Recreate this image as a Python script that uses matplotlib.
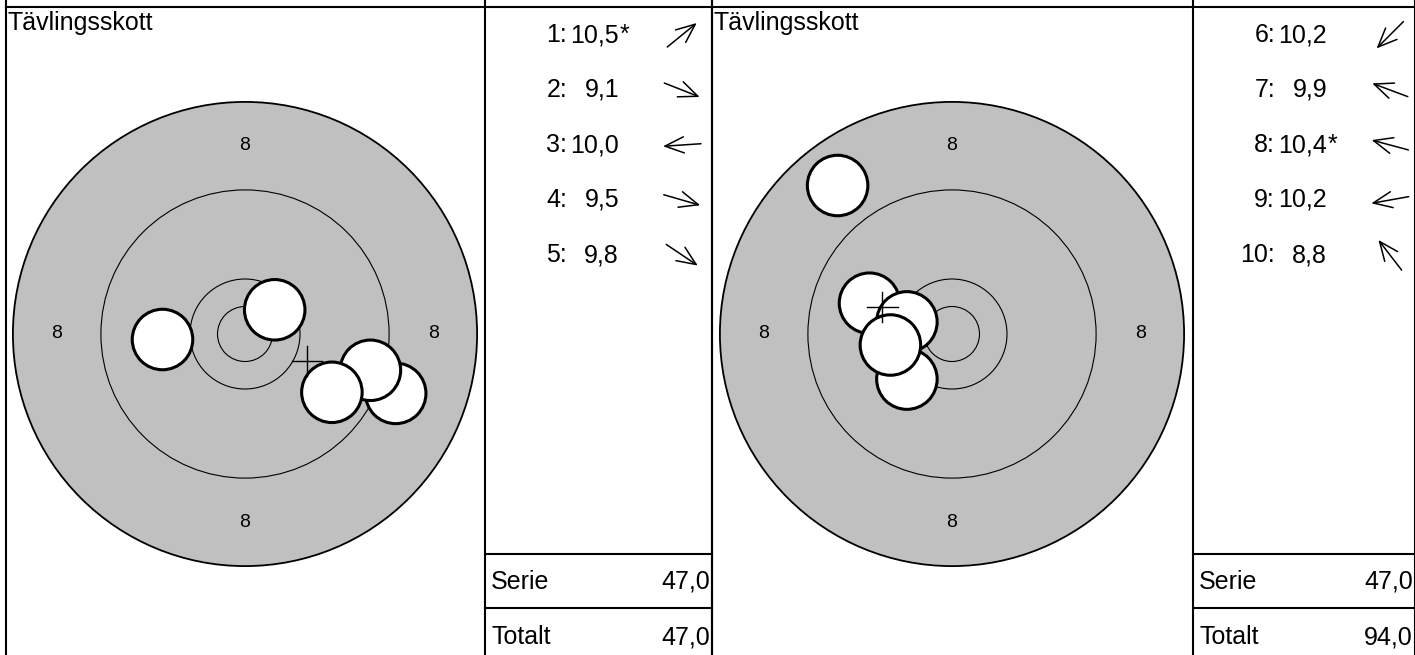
import numpy as np
import matplotlib.pyplot as plt
from matplotlib.patches import Circle

plt.rcParams['font.family'] = ['Liberation Sans', 'DejaVu Sans']

# target geometry (mm-like units)
ring_radii = [21.1, 13.1, 5.0, 2.5]
ring_labels = ['8', '8', '8', '8']
label_radius = 17.1
shot_radius = 2.75

# shots per series: x, y offsets from centre
series1_x = [2.7, 13.7, -7.5, 11.4, 7.9]
series1_y = [2.2, -5.4, -0.5, -3.3, -5.3]
series1_scores = [10.5, 9.1, 10.0, 9.5, 9.8]
series1_inner = [True, False, False, False, False]

series2_x = [-4.1, -7.5, -4.1, -5.6, -10.4]
series2_y = [-4.1, 2.8, 1.1, -1.0, 13.5]
series2_scores = [10.2, 9.9, 10.4, 10.2, 8.8]
series2_inner = [False, False, True, False, False]

title = 'Tävlingsskott'

W, H = 1415, 655
fig = plt.figure(figsize=(W / 100, H / 100), dpi=100)

# overlay axes in pixel coordinates for the table frame and texts
ov = fig.add_axes([0, 0, 1, 1], zorder=3)
ov.set_xlim(0, W)
ov.set_ylim(H, 0)
ov.axis('off')
ov.patch.set_alpha(0)

scale = 11.0  # px per unit
half = 240
panels = [
    dict(x0=6, div=485, x1=712, cx=245, xs=series1_x, ys=series1_y,
         scores=series1_scores, inner=series1_inner, first=1),
    dict(x0=712, div=1193, x1=1415, cx=952, xs=series2_x, ys=series2_y,
         scores=series2_scores, inner=series2_inner, first=6),
]
cy = 334
row_y0, row_dy = 35, 55
total = 0

for p in panels:
    # target axes
    ax = fig.add_axes([(p['cx'] - half) / W, (H - cy - half) / H, 2 * half / W, 2 * half / H], zorder=1)
    lim = half / scale
    ax.set_xlim(-lim, lim)
    ax.set_ylim(-lim, lim)
    ax.set_aspect('equal')
    ax.axis('off')
    ax.add_patch(Circle((0, 0), ring_radii[0], facecolor='#c0c0c0', edgecolor='black', lw=1.3))
    for r in ring_radii[1:]:
        ax.add_patch(Circle((0, 0), r, facecolor='none', edgecolor='black', lw=0.8))
    for ang, lab in zip([90, 0, 270, 180], ring_labels):
        a = np.deg2rad(ang)
        ax.text(label_radius * np.cos(a), label_radius * np.sin(a), lab,
                ha='center', va='center', fontsize=14)
    for x, y in zip(p['xs'], p['ys']):
        ax.add_patch(Circle((x, y), shot_radius, facecolor='white', edgecolor='black', lw=2.2))
    mx, my = np.mean(p['xs']), np.mean(p['ys'])
    arm = 1.4
    ax.plot([mx - arm, mx + arm], [my, my], color='black', lw=1.0)
    ax.plot([mx, mx], [my - arm, my + arm], color='black', lw=1.0)

    # frame lines
    for x in (p['x0'], p['div'], p['x1']):
        ov.plot([x, x], [0, H], color='black', lw=1.5)
    ov.plot([p['x0'], p['x1']], [7, 7], color='black', lw=1.5)
    for y in (554, 608):
        ov.plot([p['div'], p['x1']], [y, y], color='black', lw=1.5)

    ov.text(p['x0'] + 2, 11, title, ha='left', va='top', fontsize=18)

    # shot list
    for i, (s, inner, x, y) in enumerate(zip(p['scores'], p['inner'], p['xs'], p['ys'])):
        ry = row_y0 + i * row_dy
        ov.text(p['div'] + 82, ry, f"{p['first'] + i}:", ha='right', va='center', fontsize=18)
        ov.text(p['div'] + 134, ry, f"{s:.1f}".replace('.', ','), ha='right', va='center', fontsize=18)
        if inner:
            ov.text(p['div'] + 135, ry, '*', ha='left', va='center', fontsize=18)
        ang = np.arctan2(y, x)
        L = 19
        acx = p['div'] + 197
        dx, dy = L * np.cos(ang), -L * np.sin(ang)
        ov.annotate('', xy=(acx + dx, ry + dy), xytext=(acx - dx, ry - dy),
                    arrowprops=dict(arrowstyle='->,head_length=0.68,head_width=0.29',
                                    mutation_scale=20, lw=1.1, color='black',
                                    shrinkA=0, shrinkB=0))

    serie = sum(int(s) for s in p['scores'])
    total += serie
    for y, lab, val in ((582, 'Serie', serie), (637, 'Totalt', total)):
        ov.text(p['div'] + 6, y, lab, ha='left', va='center', fontsize=18)
        ov.text(p['x1'] - 2, y, f"{val:.1f}".replace('.', ','), ha='right', va='center', fontsize=18)

fig.savefig('out.png', dpi=100)
